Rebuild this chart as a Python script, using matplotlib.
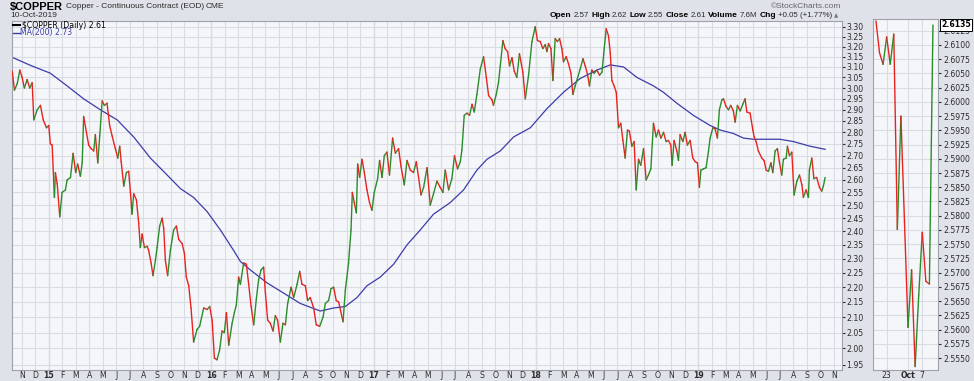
import numpy as np
import matplotlib
matplotlib.use('Agg')
import matplotlib.pyplot as plt
from matplotlib.collections import LineCollection
from matplotlib.lines import Line2D
from matplotlib.ticker import FixedLocator, NullLocator
import matplotlib.transforms as mtrans

# ---- values (decimal years, $/lb) ----
price_t = [2014.775, 2014.789, 2014.806, 2014.822, 2014.836, 2014.850, 2014.867, 2014.883, 2014.898, 2014.908,
           2014.929, 2014.949, 2014.966, 2014.986, 2015.000, 2015.010, 2015.021, 2015.035, 2015.041, 2015.052,
           2015.068, 2015.082, 2015.103, 2015.113, 2015.134, 2015.150, 2015.166, 2015.178, 2015.195, 2015.206,
           2015.215, 2015.232, 2015.246, 2015.261, 2015.277, 2015.287, 2015.302, 2015.314, 2015.329, 2015.343,
           2015.359, 2015.375, 2015.390, 2015.410, 2015.425, 2015.437, 2015.446, 2015.462, 2015.478, 2015.492,
           2015.503, 2015.513, 2015.523, 2015.540, 2015.554, 2015.564, 2015.575, 2015.589, 2015.606, 2015.615,
           2015.630, 2015.642, 2015.657, 2015.667, 2015.683, 2015.698, 2015.708, 2015.718, 2015.732, 2015.749,
           2015.769, 2015.786, 2015.800, 2015.821, 2015.835, 2015.847, 2015.862, 2015.876, 2015.892, 2015.913,
           2015.929, 2015.954, 2015.975, 2015.991, 2016.006, 2016.020, 2016.036, 2016.052, 2016.067, 2016.081,
           2016.094, 2016.108, 2016.129, 2016.143, 2016.155, 2016.169, 2016.180, 2016.200, 2016.217, 2016.231,
           2016.246, 2016.262, 2016.278, 2016.292, 2016.307, 2016.323, 2016.334, 2016.348, 2016.364, 2016.381,
           2016.395, 2016.409, 2016.426, 2016.442, 2016.457, 2016.471, 2016.492, 2016.508, 2016.529, 2016.545,
           2016.559, 2016.580, 2016.594, 2016.610, 2016.631, 2016.647, 2016.668, 2016.689, 2016.703, 2016.723,
           2016.738, 2016.754, 2016.770, 2016.785, 2016.812, 2016.826, 2016.846, 2016.861, 2016.869, 2016.881,
           2016.894, 2016.902, 2016.914, 2016.929, 2016.943, 2016.959, 2016.975, 2016.990, 2017.004, 2017.025,
           2017.037, 2017.052, 2017.066, 2017.082, 2017.098, 2017.117, 2017.134, 2017.154, 2017.169, 2017.189,
           2017.206, 2017.226, 2017.246, 2017.263, 2017.277, 2017.292, 2017.308, 2017.329, 2017.349, 2017.369,
           2017.390, 2017.410, 2017.427, 2017.441, 2017.462, 2017.482, 2017.498, 2017.517, 2017.534, 2017.544,
           2017.558, 2017.575, 2017.591, 2017.606, 2017.620, 2017.636, 2017.657, 2017.677, 2017.694, 2017.708,
           2017.729, 2017.738, 2017.755, 2017.769, 2017.780, 2017.796, 2017.810, 2017.825, 2017.837, 2017.852,
           2017.866, 2017.882, 2017.898, 2017.919, 2017.934, 2017.954, 2017.975, 2017.995, 2018.009, 2018.026,
           2018.042, 2018.057, 2018.067, 2018.077, 2018.092, 2018.104, 2018.118, 2018.132, 2018.145, 2018.159,
           2018.169, 2018.186, 2018.200, 2018.215, 2018.227, 2018.241, 2018.255, 2018.272, 2018.289, 2018.303,
           2018.317, 2018.329, 2018.344, 2018.358, 2018.375, 2018.391, 2018.406, 2018.420, 2018.432, 2018.446,
           2018.457, 2018.467, 2018.481, 2018.494, 2018.508, 2018.522, 2018.535, 2018.549, 2018.563, 2018.575,
           2018.590, 2018.604, 2018.617, 2018.631, 2018.645, 2018.662, 2018.678, 2018.692, 2018.707, 2018.723,
           2018.740, 2018.754, 2018.769, 2018.785, 2018.801, 2018.815, 2018.830, 2018.838, 2018.850, 2018.867,
           2018.877, 2018.887, 2018.904, 2018.918, 2018.932, 2018.949, 2018.965, 2018.980, 2018.994, 2019.006,
           2019.015, 2019.031, 2019.047, 2019.062, 2019.072, 2019.089, 2019.103, 2019.117, 2019.129, 2019.144,
           2019.154, 2019.170, 2019.185, 2019.199, 2019.215, 2019.226, 2019.240, 2019.257, 2019.273, 2019.287,
           2019.298, 2019.318, 2019.335, 2019.343, 2019.355, 2019.369, 2019.390, 2019.404, 2019.417, 2019.431,
           2019.446, 2019.458, 2019.472, 2019.486, 2019.498, 2019.513, 2019.523, 2019.540, 2019.548, 2019.560,
           2019.575, 2019.589, 2019.606, 2019.622, 2019.637, 2019.646, 2019.663, 2019.677, 2019.683, 2019.698,
           2019.711, 2019.728, 2019.745, 2019.759, 2019.769, 2019.780]
price_v = [3.080, 2.990, 3.020, 3.085, 3.050, 3.000, 3.040, 3.000, 3.025, 2.855,
           2.900, 2.920, 2.855, 2.820, 2.830, 2.750, 2.745, 2.530, 2.630, 2.585,
           2.455, 2.550, 2.560, 2.600, 2.610, 2.710, 2.630, 2.665, 2.615, 2.670,
           2.870, 2.800, 2.745, 2.730, 2.720, 2.790, 2.670, 2.785, 2.940, 2.920,
           2.930, 2.830, 2.785, 2.730, 2.690, 2.740, 2.675, 2.575, 2.630, 2.635,
           2.550, 2.465, 2.545, 2.520, 2.430, 2.340, 2.390, 2.340, 2.345, 2.330,
           2.285, 2.240, 2.295, 2.340, 2.420, 2.450, 2.410, 2.295, 2.240, 2.330,
           2.405, 2.420, 2.370, 2.355, 2.320, 2.235, 2.205, 2.130, 2.020, 2.060,
           2.070, 2.130, 2.125, 2.135, 2.090, 1.970, 1.965, 1.995, 2.055, 2.050,
           2.115, 2.010, 2.080, 2.115, 2.140, 2.235, 2.210, 2.285, 2.280, 2.210,
           2.135, 2.075, 2.160, 2.225, 2.260, 2.270, 2.180, 2.090, 2.080, 2.055,
           2.105, 2.090, 2.020, 2.080, 2.075, 2.145, 2.200, 2.165, 2.210, 2.255,
           2.210, 2.205, 2.155, 2.165, 2.130, 2.075, 2.070, 2.100, 2.145, 2.155,
           2.195, 2.200, 2.155, 2.150, 2.085, 2.190, 2.285, 2.405, 2.550, 2.510,
           2.470, 2.665, 2.610, 2.685, 2.630, 2.560, 2.510, 2.480, 2.550, 2.605,
           2.680, 2.610, 2.700, 2.715, 2.620, 2.775, 2.710, 2.730, 2.655, 2.580,
           2.680, 2.640, 2.630, 2.675, 2.610, 2.540, 2.570, 2.650, 2.500, 2.545,
           2.595, 2.570, 2.550, 2.640, 2.560, 2.605, 2.700, 2.645, 2.675, 2.725,
           2.875, 2.885, 2.875, 2.925, 2.890, 2.970, 3.090, 3.150, 3.050, 2.965,
           2.945, 2.920, 2.970, 3.025, 3.105, 3.230, 3.190, 3.175, 3.105, 3.145,
           3.080, 3.050, 3.165, 3.075, 2.950, 3.060, 3.225, 3.300, 3.230, 3.225,
           3.190, 3.210, 3.175, 3.215, 3.190, 3.035, 3.240, 3.225, 3.240, 3.190,
           3.125, 3.150, 3.115, 3.070, 2.970, 3.010, 3.045, 3.090, 3.140, 3.105,
           3.065, 3.010, 3.085, 3.070, 3.085, 3.060, 3.075, 3.190, 3.290, 3.255,
           3.170, 3.035, 3.010, 2.980, 2.820, 2.840, 2.765, 2.690, 2.810, 2.805,
           2.740, 2.760, 2.560, 2.685, 2.660, 2.730, 2.600, 2.620, 2.645, 2.840,
           2.780, 2.810, 2.775, 2.800, 2.760, 2.765, 2.745, 2.660, 2.765, 2.720,
           2.680, 2.790, 2.760, 2.800, 2.745, 2.765, 2.690, 2.675, 2.670, 2.570,
           2.640, 2.645, 2.650, 2.720, 2.775, 2.820, 2.815, 2.775, 2.900, 2.945,
           2.950, 2.915, 2.900, 2.920, 2.895, 2.845, 2.920, 2.895, 2.925, 2.950,
           2.890, 2.885, 2.810, 2.780, 2.760, 2.720, 2.690, 2.680, 2.640, 2.635,
           2.670, 2.630, 2.720, 2.730, 2.675, 2.620, 2.685, 2.690, 2.740, 2.700,
           2.715, 2.540, 2.595, 2.620, 2.580, 2.530, 2.560, 2.530, 2.640, 2.690,
           2.605, 2.610, 2.570, 2.555, 2.575, 2.610]

ma_t = [2014.775, 2014.887, 2015.010, 2015.113, 2015.215, 2015.318, 2015.421, 2015.523, 2015.626, 2015.729,
        2015.811, 2015.892, 2015.975, 2016.057, 2016.138, 2016.180, 2016.241, 2016.344, 2016.446, 2016.549,
        2016.672, 2016.754, 2016.826, 2016.898, 2016.959, 2017.041, 2017.123, 2017.206, 2017.287, 2017.369,
        2017.472, 2017.554, 2017.636, 2017.698, 2017.780, 2017.862, 2017.965, 2018.067, 2018.169, 2018.272,
        2018.375, 2018.457, 2018.539, 2018.621, 2018.723, 2018.785, 2018.867, 2018.969, 2019.072, 2019.134,
        2019.215, 2019.277, 2019.338, 2019.502, 2019.585, 2019.688, 2019.780]
ma_v = [3.147, 3.108, 3.070, 3.010, 2.950, 2.900, 2.855, 2.780, 2.690, 2.620,
        2.565, 2.530, 2.475, 2.405, 2.330, 2.290, 2.260, 2.215, 2.180, 2.145,
        2.120, 2.130, 2.135, 2.165, 2.205, 2.235, 2.280, 2.350, 2.405, 2.465,
        2.510, 2.560, 2.640, 2.685, 2.720, 2.780, 2.820, 2.905, 2.980, 3.045,
        3.085, 3.110, 3.100, 3.050, 3.010, 2.980, 2.930, 2.875, 2.830, 2.810,
        2.795, 2.775, 2.770, 2.770, 2.760, 2.740, 2.727]

# last sessions, shown in the zoom panel
zoom_days = ['Sep 18', 'Sep 19', 'Sep 20', 'Sep 23', 'Sep 24', 'Sep 25', 'Sep 26', 'Sep 27', 'Sep 30',
             'Oct 1', 'Oct 2', 'Oct 3', 'Oct 4', 'Oct 7', 'Oct 8', 'Oct 9', 'Oct 10']
zoom_v = [2.6142, 2.6086, 2.6066, 2.6114, 2.6066, 2.6119, 2.5776, 2.5975, 2.5790,
          2.5604, 2.5705, 2.5535, 2.5660, 2.5771, 2.5685, 2.5680, 2.6135]
zoom_ticks = {'Sep 23': '23', 'Oct 1': 'Oct', 'Oct 7': '7'}

month_letters = ['J', 'F', 'M', 'A', 'M', 'J', 'J', 'A', 'S', 'O', 'N', 'D']

quote = [('Open', '2.57'), ('High', '2.62'), ('Low', '2.55'), ('Close', '2.61'),
         ('Volume', '7.6M'), ('Chg', '+0.05 (+1.77%)')]

RED = '#e8231f'
GREEN = '#2a8c2a'
MA_BLUE = '#3c3ca8'
GRID = '#d9dce3'
TXT = '#2b2b2b'
FS = 5.6
HFONT = 'Liberation Sans'

W, H = 974, 381


def box(x0, y0, x1, y1):
    return [x0 / W, 1 - y1 / H, (x1 - x0) / W, (y1 - y0) / H]


def fpos(x, y):
    return x / W, 1 - y / H


def updown(ax, x, y, lw=1.0):
    pts = np.column_stack([x, y])
    segs = np.stack([pts[:-1], pts[1:]], axis=1)
    cols = np.where(np.diff(y) >= 0, GREEN, RED)
    ax.add_collection(LineCollection(segs, colors=cols, linewidths=lw,
                                     capstyle='round', joinstyle='round', zorder=3))


fig = plt.figure(figsize=(W / 100, H / 100), dpi=100)
fig.patch.set_facecolor('#dfe3e9')
renderer = fig.canvas.get_renderer()


def text_row(x, y, parts, align='left', gap=3):
    # lay a row of text pieces next to each other, measured with the renderer
    objs = [fig.text(0, 0, s, va='center', ha='left', **kw) for s, kw in parts]
    widths = [o.get_window_extent(renderer=renderer).width for o in objs]
    total = sum(widths) + gap * (len(objs) - 1)
    cur = x - total if align == 'right' else x
    for o, w in zip(objs, widths):
        o.set_position(fpos(cur, y))
        cur += w + gap
    return cur


# ---- main panel ----
ax = fig.add_axes(box(11.7, 21, 841.7, 370))
ax.set_facecolor('#f5f6fa')
ax.set_yscale('log')
ax.set_xlim(2014.772, 2019.882)
ax.set_ylim(1.934, 3.33)

updown(ax, np.array(price_t), np.array(price_v))
ax.plot(ma_t, ma_v, color=MA_BLUE, lw=0.9, zorder=2)

yt = np.round(np.arange(1.95, 3.301, 0.05), 2)
ax.yaxis.set_major_locator(FixedLocator(yt))
ax.yaxis.set_minor_locator(NullLocator())
ax.set_yticklabels([f'{v:.2f}' for v in yt])
ax.yaxis.tick_right()

mt, ml, yrs = [], [], []
for yr in range(2014, 2020):
    for m in range(12):
        t = yr + m / 12
        if 2014.772 < t < 2019.882:
            mt.append(t)
            ml.append(str(yr)[2:] if m == 0 else month_letters[m])
            if m == 0:
                yrs.append(t)
ax.set_xticks(mt)
ax.set_xticklabels(ml)
for lab in ax.get_xticklabels():
    if lab.get_text().isdigit():
        lab.set_fontweight('bold')

ax.grid(True, color=GRID, lw=0.8, zorder=0)
for t in yrs:
    ax.axvline(t, color='#c4c8d0', lw=0.9, zorder=0)
ax.tick_params(axis='x', length=0, pad=1, labelsize=FS, colors=TXT)
ax.tick_params(axis='y', length=2, pad=1.5, labelsize=FS, colors=TXT, direction='out')
for s in ax.spines.values():
    s.set_color('#9ea3ab')
    s.set_linewidth(0.8)

# ---- zoom panel ----
axz = fig.add_axes(box(873.3, 19.3, 938.3, 370))
axz.set_facecolor('#f5f6fa')
zi = np.arange(len(zoom_v))
updown(axz, zi, np.array(zoom_v))
axz.set_xlim(-0.75, 17.5)
axz.set_ylim(2.5529, 2.6145)
zy = np.round(np.arange(2.555, 2.6126, 0.0025), 4)
axz.set_yticks(zy)
axz.set_yticklabels([f'{v:.4f}' for v in zy])
axz.yaxis.tick_right()
axz.set_xticks([zoom_days.index(d) for d in zoom_ticks])
axz.set_xticklabels(list(zoom_ticks.values()))
for lab in axz.get_xticklabels():
    if lab.get_text() == 'Oct':
        lab.set_fontweight('bold')
axz.grid(True, color=GRID, lw=0.8, zorder=0)
axz.tick_params(axis='x', length=0, pad=1, labelsize=FS, colors=TXT)
axz.tick_params(axis='y', length=2, pad=1.5, labelsize=FS, colors=TXT)
for s in axz.spines.values():
    s.set_color('#9ea3ab')
    s.set_linewidth(0.8)
trans = mtrans.blended_transform_factory(axz.transAxes, axz.transData)
axz.text(1.04, zoom_v[-1], f'{zoom_v[-1]:.4f}', transform=trans, fontsize=FS,
         fontweight='bold', va='center', ha='left', color='black',
         bbox=dict(boxstyle='square,pad=0.15', fc='white', ec='black', lw=0.7), zorder=5)

# ---- header ----
text_row(10, 7, [(r'\$COPPER', dict(fontsize=8, fontweight='bold', color='black', family=HFONT)),
                 ('Copper - Continuous Contract (EOD)', dict(fontsize=6, color=TXT, family=HFONT)),
                 ('CME', dict(fontsize=6, color=TXT, family=HFONT))], gap=2.5)
fig.text(*fpos(10, 15.5), '10-Oct-2019', fontsize=6, va='center', ha='left', color=TXT, family=HFONT)
fig.text(*fpos(841, 6.5), '\u00a9StockCharts.com', fontsize=6, va='center', ha='right',
         color='#666666', family=HFONT)

parts = []
for lab, val in quote:
    parts.append((lab, dict(fontsize=6, fontweight='bold', color='black', family=HFONT)))
    parts.append((val, dict(fontsize=5.7, color=TXT, family=HFONT)))
text_row(832, 15.5, parts, align='right', gap=2)
fig.text(*fpos(834, 15.5), '\u25b2', fontsize=4, va='center', ha='left', color='#777777')

# legend inside the plot
fig.add_artist(Line2D([12.5 / W, 19.5 / W], [1 - 25 / H, 1 - 25 / H], color='black', lw=1.5))
fig.text(*fpos(21.5, 25), r'\$COPPER (Daily) 2.61', fontsize=FS, va='center', ha='left', color='black')
fig.add_artist(Line2D([12.5 / W, 19.5 / W], [1 - 33 / H, 1 - 33 / H], color=MA_BLUE, lw=1.0))
fig.text(*fpos(20.5, 33), 'MA(200) 2.73', fontsize=FS, va='center', ha='left', color=MA_BLUE)

fig.savefig('out.png', dpi=100, facecolor=fig.get_facecolor())
